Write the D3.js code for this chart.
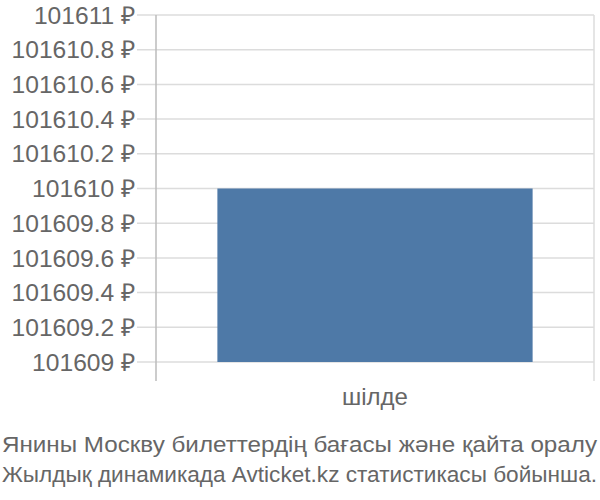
<!DOCTYPE html>
<html>
<head>
<meta charset="utf-8">
<script src="https://cdn.jsdelivr.net/npm/d3@7"></script>
<style>
  body { margin: 0; background: #fff; }
  text { font-family: "Liberation Sans", Arial, sans-serif; fill: #666; }
</style>
</head>
<body>
<div id="chart-root"></div>
<script>
// data
const categories = ['шілде'];
const prices = [101610];
const yTicks = [101609, 101609.2, 101609.4, 101609.6, 101609.8, 101610, 101610.2, 101610.4, 101610.6, 101610.8, 101611];
const titleLines = [
  'Янины Москву билеттердің бағасы және қайта оралу',
  'Жылдық динамикада Avticket.kz статистикасы бойынша.'
];

const width = 600, height = 500;
const margin = {top: 15, right: 6, bottom: 138, left: 156};

const svg = d3.select('#chart-root')
  .append('svg')
  .attr('width', width)
  .attr('height', height);

const x = d3.scaleBand()
  .domain(categories)
  .range([margin.left, width - margin.right])
  .padding(0.163);

const y = d3.scaleLinear()
  .domain([101609, 101611])
  .range([height - margin.bottom, margin.top]);

// gridlines + tick labels
const grid = svg.append('g');
grid.selectAll('line')
  .data(yTicks)
  .join('line')
  .attr('x1', margin.left - 19)
  .attr('x2', width - margin.right)
  .attr('y1', d => y(d))
  .attr('y2', d => y(d))
  .attr('stroke', '#dcdcdc')
  .attr('stroke-width', 1.5);

grid.selectAll('text')
  .data(yTicks)
  .join('text')
  .attr('x', margin.left - 21)
  .attr('y', d => y(d))
  .attr('dy', '0.35em')
  .attr('text-anchor', 'end')
  .style('font-size', '24.6px')
  .text(d => d3.format('~f')(+d.toFixed(1)) + ' ₽');

// bars
svg.append('g')
  .selectAll('rect')
  .data(prices)
  .join('rect')
  .attr('x', (d, i) => x(categories[i]))
  .attr('width', x.bandwidth())
  .attr('y', d => y(d))
  .attr('height', d => y(101609) - y(d))
  .attr('fill', '#4e79a7');

// frame lines (left axis and right edge)
const yBottom = y(101609) + 19;
[margin.left, width - margin.right].forEach((xx, i) => {
  svg.append('line')
    .attr('x1', xx).attr('x2', xx)
    .attr('y1', margin.top).attr('y2', yBottom)
    .attr('stroke', i === 0 ? '#bbb' : '#dcdcdc')
    .attr('stroke-width', 1.5);
});

// category labels
svg.append('g')
  .selectAll('text')
  .data(categories)
  .join('text')
  .attr('x', d => x(d) + x.bandwidth() / 2)
  .attr('y', 405)
  .attr('text-anchor', 'middle')
  .style('font-size', '24px')
  .text(d => d);

// title, each line stretched to the full width
svg.append('g')
  .selectAll('text')
  .data(titleLines)
  .join('text')
  .attr('x', 2)
  .attr('y', (d, i) => 452 + i * 30)
  .attr('textLength', 595)
  .attr('lengthAdjust', 'spacingAndGlyphs')
  .style('font-size', '22.7px')
  .text(d => d);
</script>
</body>
</html>
